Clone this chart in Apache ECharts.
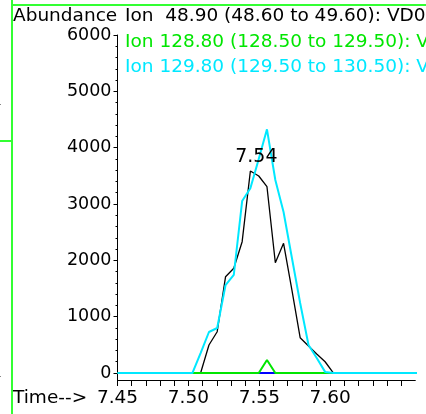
<!DOCTYPE html>
<html>
<head>
<meta charset="utf-8">
<script src="https://cdn.jsdelivr.net/npm/echarts@6/dist/echarts.min.js"></script>
<style>
    html, body {margin: 0; padding: 0; background: #fff;}
    #chart {width: 426px; height: 414px;}
</style>
</head>
<body>
<div id="chart"></div>
<script>
// scan times (min), shared by every ion trace
const scanTimes = [7.45, 7.5028, 7.5086, 7.5145, 7.5203, 7.5262, 7.5320, 7.5379, 7.5437, 7.5496,
    7.5554, 7.5613, 7.5671, 7.5730, 7.5788, 7.5847, 7.5905, 7.5964, 7.6023, 7.67];
const ion48 = [0, 0, 0, 497, 733, 1710, 1859, 2331, 3586, 3497, 3307, 1958, 2303, 1473, 627, 479, 337, 200, 0, 0];
const ion128 = [0, 0, 0, 0, 0, 0, 0, 0, 0, 0, 231, 0, 0, 0, 0, 0, 0, 0, 0, 0];
const ion129 = [0, 0, 355, 728, 799, 1562, 1740, 3053, 3279, 3799, 4326, 3426, 2858, 2041, 1243, 497, 266, 20, 0, 0];
const hiddenIon = [0, 0, 0, 0, 0, 0, 0, 0, 0, 0, 0, 0, 0, 0, 0, 0, 0, 0, 0, 0];

const yTickValues = [0, 1000, 2000, 3000, 4000, 5000, 6000];
const xTickLabels = ['7.45', '7.50', '7.55', '7.60'];
const ionTitles = [
    'Ion  48.90 (48.60 to 49.60): VD0 sample.D',
    'Ion 128.80 (128.50 to 129.50): VD0 sample.D',
    'Ion 129.80 (129.50 to 130.50): VD0 sample.D'
];
const ionColors = ['#000000', '#00e600', '#00e8ff'];

const FONT = '"DejaVu Sans", sans-serif';
const frameGreen = '#33ff33';

const yMinorTicks = [];
for (let v = 200; v < 6000; v += 200) {
    if (v % 1000 !== 0) yMinorTicks.push(v);
}

const peakIndex = ion48.indexOf(Math.max(...ion48));

function toData(values, withPeak) {
    return scanTimes.map((t, i) => {
        if (withPeak && i === peakIndex) {
            return {
                value: [t, values[i]],
                label: {
                    show: true,
                    position: 'top',
                    distance: 4,
                    offset: [6, 0],
                    formatter: t.toFixed(2),
                    color: '#000',
                    fontSize: 19,
                    fontFamily: FONT
                }
            };
        }
        return [t, values[i]];
    });
}

function lineSeries(name, values, color, width, withPeak) {
    return {
        name: name,
        type: 'line',
        data: toData(values, withPeak),
        showSymbol: true,
        symbol: 'circle',
        symbolSize: 0,
        clip: false,
        silent: true,
        lineStyle: {color: color, width: width},
        itemStyle: {color: color},
        emphasis: {disabled: true}
    };
}

const chart = echarts.init(document.getElementById('chart'));

chart.setOption({
    animation: false,
    backgroundColor: '#fff',
    grid: {left: 117.5, top: 35, right: 10.7, bottom: 34},
    xAxis: {
        type: 'value',
        min: 7.45,
        max: 7.66,
        interval: 0.01,
        axisLine: {onZero: false, lineStyle: {color: '#000', width: 1}},
        axisTick: {length: 6, lineStyle: {color: '#000'}},
        axisLabel: {
            margin: 9,
            color: '#000',
            fontSize: 18.5,
            fontFamily: FONT,
            showMaxLabel: false,
            formatter: function (value) {
                const s = value.toFixed(2);
                return xTickLabels.includes(s) ? s : '';
            }
        },
        splitLine: {show: false}
    },
    yAxis: [{
        type: 'value',
        position: 'left',
        min: -124,
        max: 6000,
        axisLine: {show: true, onZero: false, lineStyle: {color: '#000', width: 1}},
        axisTick: {show: true, length: 4, customValues: yTickValues, lineStyle: {color: '#000'}},
        axisLabel: {
            customValues: yTickValues,
            margin: 6,
            color: '#000',
            fontSize: 17.5,
            fontFamily: FONT,
            formatter: value => String(value)
        },
        splitLine: {show: false}
    }, {
        type: 'value',
        position: 'left',
        offset: 0,
        min: -124,
        max: 6000,
        axisLine: {show: false, onZero: false},
        axisTick: {show: true, length: 2, customValues: yMinorTicks, lineStyle: {color: '#000'}},
        axisLabel: {show: false},
        splitLine: {show: false}
    }],
    series: [
        lineSeries(ionTitles[0], ion48, ionColors[0], 1.3, true),
        lineSeries('blue', hiddenIon, '#0000ff', 2, false),
        lineSeries(ionTitles[1], ion128, ionColors[1], 2, false),
        lineSeries(ionTitles[2], ion129, ionColors[2], 2, false)
    ],
    graphic: [
        {type: 'line', shape: {x1: 12, y1: 0, x2: 12, y2: 414}, style: {stroke: frameGreen, lineWidth: 2}},
        {type: 'line', shape: {x1: 12, y1: 5, x2: 426, y2: 5}, style: {stroke: frameGreen, lineWidth: 2}},
        {type: 'line', shape: {x1: 0, y1: 141, x2: 12, y2: 141}, style: {stroke: frameGreen, lineWidth: 2}},
        {type: 'rect', shape: {x: 0, y: 104, width: 1, height: 1}, style: {fill: '#888'}},
        {type: 'rect', shape: {x: 0, y: 376, width: 1, height: 1}, style: {fill: '#888'}},
        {type: 'text', x: 13, y: 16.5, style: {text: 'Abundance', fill: '#000', font: '18.5px ' + FONT, textVerticalAlign: 'middle'}},
        {type: 'text', x: 125, y: 16.5, style: {text: ionTitles[0], fill: ionColors[0], font: '18.5px ' + FONT, textVerticalAlign: 'middle'}},
        {type: 'text', x: 125, y: 42.5, style: {text: ionTitles[1], fill: ionColors[1], font: '18.5px ' + FONT, textVerticalAlign: 'middle'}},
        {type: 'text', x: 125, y: 67.5, style: {text: ionTitles[2], fill: ionColors[2], font: '18.5px ' + FONT, textVerticalAlign: 'middle'}},
        {type: 'text', x: 13, y: 398.5, style: {text: 'Time-->', fill: '#000', font: '18.5px ' + FONT, textVerticalAlign: 'middle'}}
    ]
});
</script>
</body>
</html>
